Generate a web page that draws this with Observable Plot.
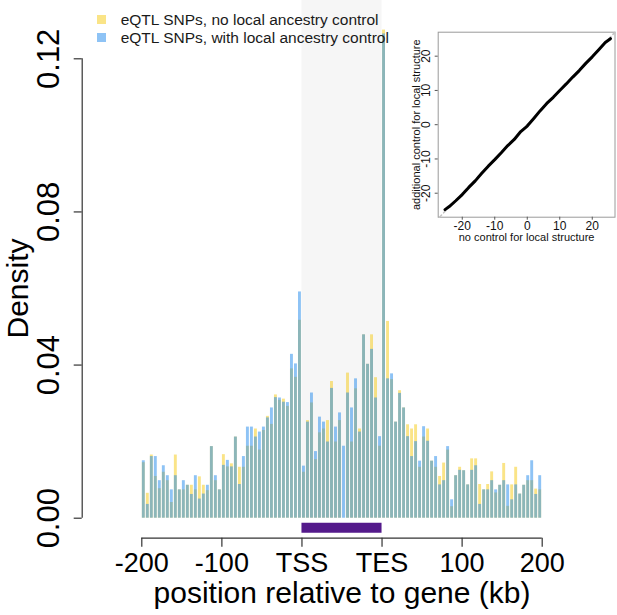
<!DOCTYPE html>
<html><head><meta charset="utf-8">
<script src="https://cdn.jsdelivr.net/npm/d3@7"></script>
<script src="https://cdn.jsdelivr.net/npm/@observablehq/plot@0.6"></script>
<style>
html,body{margin:0;padding:0;background:#fff;}
#wrap{position:relative;width:617px;height:615px;font-family:"Liberation Sans",Arial,Helvetica,sans-serif;}
#inset{position:absolute;left:390px;top:0;}
.leg{position:absolute;left:120.7px;font-size:15.5px;line-height:18px;color:#1a1a1a;white-space:nowrap;}
.sw{position:absolute;left:96.7px;width:9.3px;height:9.3px;}
</style></head><body><div id="wrap"></div>
<script>
// bins: upstream -200..0 kb (40 bins of 5 kb), gene body TSS..TES scaled to 100 units (20 bins), downstream 0..200 kb (40 bins)
const binStart = d3.range(-200, 300, 5);
const noControl = [
  0.0145,0.0065,0.0165,0.0109,0.0077,0.0120,0.0098,0.0041,0.0165,0.0074,
  0.0074,0.0086,0.0086,0.0074,0.0108,0.0086,0.0072,0.0187,0.0098,0.0074,
  0.0166,0.0134,0.0142,0.0212,0.0133,0.0133,0.0188,0.0188,0.0233,0.0178,
  0.0229,0.0266,0.0245,0.0322,0.0308,0.0311,0.0292,0.0390,0.0368,0.0517,
  0.0120,0.0255,0.0301,0.0153,0.0223,0.0233,0.0255,0.0357,0.0199,0.0255,
  0.0000,0.0379,0.0199,0.0338,0.0233,0.0479,0.0402,0.0479,0.0367,0.0188,
  0.1275,0.0514,0.0362,0.0251,0.0333,0.0288,0.0244,0.0233,0.0244,0.0133,
  0.0212,0.0233,0.0149,0.0133,0.0109,0.0144,0.0178,0.0030,0.0111,0.0133,
  0.0124,0.0087,0.0155,0.0155,0.0088,0.0074,0.0088,0.0121,0.0066,0.0086,
  0.0143,0.0031,0.0087,0.0133,0.0063,0.0086,0.0098,0.0098,0.0076,0.0074
];
const withControl = [
  0.0150,0.0036,0.0161,0.0161,0.0098,0.0137,0.0111,0.0074,0.0111,0.0074,
  0.0098,0.0086,0.0062,0.0111,0.0050,0.0063,0.0086,0.0187,0.0111,0.0074,
  0.0138,0.0151,0.0134,0.0212,0.0088,0.0161,0.0238,0.0238,0.0212,0.0225,
  0.0238,0.0262,0.0288,0.0315,0.0314,0.0303,0.0302,0.0428,0.0403,0.0591,
  0.0136,0.0251,0.0327,0.0174,0.0264,0.0251,0.0199,0.0339,0.0238,0.0275,
  0.0188,0.0327,0.0288,0.0364,0.0225,0.0479,0.0402,0.0441,0.0314,0.0213,
  0.1265,0.0364,0.0377,0.0251,0.0326,0.0288,0.0213,0.0161,0.0200,0.0149,
  0.0239,0.0201,0.0149,0.0161,0.0087,0.0098,0.0187,0.0048,0.0111,0.0125,
  0.0124,0.0087,0.0125,0.0137,0.0036,0.0074,0.0074,0.0098,0.0074,0.0086,
  0.0098,0.0087,0.0048,0.0087,0.0063,0.0086,0.0111,0.0150,0.0062,0.0111
];
const yTicks = [0, 0.04, 0.08, 0.12];
const xTickPos = [-200, -100, 0, 100, 200, 300];
const xTickLabels = ["-200", "-100", "TSS", "TES", "100", "200"];
const gene = [{start: 0, end: 100}];
const legendLabels = ["eQTL SNPs, no local ancestry control", "eQTL SNPs, with local ancestry control"];

// inset QQ plot
const qqX = [-25.3,-24,-22,-20,-18,-16,-14,-12,-10,-8,-6,-4,-2,0,2,4,6,8,10,12,14,16,18,20,22,24,25.6];
const qqY = [-24.8,-23.9,-22.2,-20.4,-18.3,-16.4,-14.2,-12.1,-10.2,-8.2,-6.1,-4.3,-2.0,-0.4,1.8,4.1,6.2,8.0,10.0,11.9,13.9,15.8,17.9,19.8,21.9,24.0,25.1];
const insetTicks = [-20, -10, 0, 10, 20];
const diag = [-27, 27];

const yellow = "rgb(245,201,15)", blue = "rgb(29,135,235)";
const F = '"Liberation Sans", Arial, Helvetica, sans-serif';
const bars = vals => binStart.map((x, i) => ({x1: x, x2: x + 5, v: vals[i]}));

const main = Plot.plot({
  width: 617, height: 615,
  marginLeft: 141.3, marginRight: 75.3, marginTop: 58.3, marginBottom: 97.3,
  x: {domain: [-200, 300], label: null},
  y: {domain: [0, 0.12], label: null},
  style: {fontFamily: F, background: "white", color: "#000", overflow: "visible"},
  marks: [
    Plot.rect(gene, {x1: "start", x2: "end", y1: 0, y2: 0.12, insetTop: -58.3, fill: "#f6f6f6"}),
    Plot.rect(bars(noControl), {x1: "x1", x2: "x2", y1: 0, y2: "v", fill: yellow, fillOpacity: 0.5, insetLeft: 0.55, insetRight: 0.55}),
    Plot.rect(bars(withControl), {x1: "x1", x2: "x2", y1: 0, y2: "v", fill: blue, fillOpacity: 0.5, insetLeft: 0.55, insetRight: 0.55}),
    Plot.ruleY([0], {x1: gene[0].start, x2: gene[0].end, dy: 9.6, stroke: "#541a8b", strokeWidth: 10}),
    Plot.ruleX([xTickPos[0]], {y1: yTicks[0], y2: yTicks[yTicks.length - 1], dx: -59.6, stroke: "#333", strokeWidth: 1.2}),
    Plot.axisY(yTicks, {tickSize: 8, dx: -59.6, tickFormat: () => "", stroke: "#333", strokeWidth: 1.2}),
    Plot.text(yTicks, {y: d => d, frameAnchor: "left", dx: 48.8 - 141.3, rotate: -90, text: d => d.toFixed(2), fontSize: 31, fill: "#000", textAnchor: "middle", lineAnchor: "middle"}),
    Plot.ruleY([yTicks[0]], {x1: xTickPos[0], x2: xTickPos[xTickPos.length - 1], dy: 20, stroke: "#333", strokeWidth: 1.2}),
    Plot.axisX(xTickPos, {tickSize: 9, tickPadding: 6, dy: 20, tickFormat: d => xTickLabels[xTickPos.indexOf(d)], fontSize: 27, stroke: "#333", strokeWidth: 1.2, fill: "#000"}),
    Plot.text(["Density"], {text: d => d, frameAnchor: "left", dx: 18 - 141.3, rotate: -90, fontSize: 30, fill: "#000", textAnchor: "middle", lineAnchor: "middle"}),
    Plot.text(["position relative to gene (kb)"], {text: d => d, frameAnchor: "bottom", dy: 74.7, fontSize: 30, fill: "#000", textAnchor: "middle", lineAnchor: "middle"})
  ]
});

const inset = Plot.plot({
  width: 227, height: 250,
  marginLeft: 47.7, marginRight: 2.5, marginTop: 31.7, marginBottom: 33.3,
  x: {domain: [-27.4, 27.0], label: null},
  y: {domain: [-27, 27], label: null},
  style: {fontFamily: F, background: "transparent", color: "#000", overflow: "visible"},
  marks: [
    Plot.frame({stroke: "#9a9a9a"}),
    Plot.line(diag, {x: d => d, y: d => d, stroke: "#c4c4c4", strokeDasharray: "3,3"}),
    Plot.line(qqX.map((x, i) => ({x, y: qqY[i]})), {x: "x", y: "y", stroke: "#000", strokeWidth: 3}),
    Plot.axisX(insetTicks, {tickSize: 3, tickPadding: 1, fontSize: 12, tickFormat: d => String(d), stroke: "#555", fill: "#111"}),
    Plot.axisY(insetTicks, {tickSize: 3, tickFormat: () => "", stroke: "#555"}),
    Plot.text(insetTicks, {y: d => d, frameAnchor: "left", dx: -12.4, rotate: -90, text: d => String(d), fontSize: 12, fill: "#111", textAnchor: "middle", lineAnchor: "middle"}),
    Plot.text(["no control for local structure"], {text: d => d, frameAnchor: "bottom", dy: 20.5, fontSize: 11, fill: "#111", textAnchor: "middle", lineAnchor: "middle"}),
    Plot.text(["additional control for local structure"], {text: d => d, frameAnchor: "left", dx: -22, rotate: -90, fontSize: 11, fill: "#111", textAnchor: "middle", lineAnchor: "middle"})
  ]
});

const wrap = document.getElementById("wrap");
wrap.appendChild(main);
const insetDiv = document.createElement("div");
insetDiv.id = "inset";
insetDiv.appendChild(inset);
wrap.appendChild(insetDiv);

const swCols = ["rgba(245,201,15,0.5)", "rgba(29,135,235,0.5)"];
legendLabels.forEach((t, i) => {
  const sw = document.createElement("div");
  sw.className = "sw";
  sw.style.top = (14.7 + i * 18.4) + "px";
  sw.style.background = swCols[i];
  wrap.appendChild(sw);
  const lb = document.createElement("div");
  lb.className = "leg";
  lb.style.top = (10.6 + i * 18.4) + "px";
  lb.textContent = t;
  wrap.appendChild(lb);
});
</script></body></html>
